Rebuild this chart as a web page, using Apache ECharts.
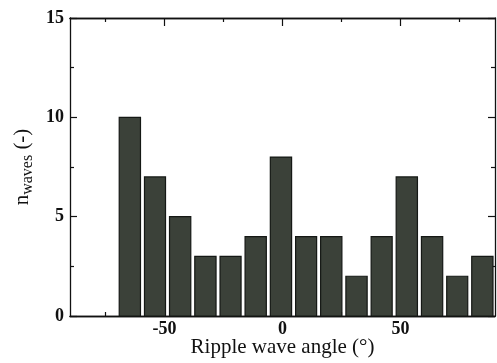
<!DOCTYPE html>
<html>

<head>
	<meta charset="utf-8">
	<title></title>
	<style type="text/css">
	html, body {
		margin: 0;
		padding: 0;
		background: #fff;
	}

	#chart {
		width: 497px;
		height: 363px;
	}
	</style>
</head>

<body>
	<div id="chart"></div>
	<script src="https://cdn.jsdelivr.net/npm/echarts@6/dist/echarts.min.js"></script>
	<script>
	// histogram bins (degrees) and counts
	var binEdges = [-70, -59.3, -48.7, -38, -27.3, -16.7, -6, 4.7, 15.3, 26, 36.7, 47.3, 58, 68.7, 79.3, 90];
	var counts = [10, 7, 5, 3, 3, 4, 8, 4, 4, 2, 4, 7, 4, 2, 3];
	var xMajorTicks = [-50, 0, 50];
	var xMinorTicks = [-75, -25, 25, 75];

	var serif = 'Liberation Serif';

	var bins = [];
	for (var i = 0; i < counts.length; i++) {
		bins.push([binEdges[i], binEdges[i + 1], counts[i]]);
	}

	function renderItem(params, api) {
		var p0 = api.coord([api.value(0), api.value(2)]);
		var p1 = api.coord([api.value(1), 0]);
		return {
			type: 'rect',
			shape: {
				x: p0[0] + 2,
				y: p0[1],
				width: p1[0] - p0[0] - 4,
				height: p1[1] - p0[1]
			},
			style: {
				fill: '#3b4139',
				stroke: '#151815',
				lineWidth: 1.2
			}
		};
	}

	// one x axis per tick set, bottom and top
	function xAxis(pos, ticks, len, labels) {
		return {
			type: 'value',
			position: pos,
			min: -90,
			max: 90,
			axisLine: { show: true, onZero: false, lineStyle: { color: '#111', width: 1.3 } },
			axisTick: { show: true, inside: true, length: len, customValues: ticks, lineStyle: { color: '#111', width: 1.2 } },
			axisLabel: labels ? {
				show: true,
				customValues: ticks,
				margin: 4,
				color: '#111',
				fontFamily: serif,
				fontWeight: 'bold',
				fontSize: 18
			} : { show: false },
			splitLine: { show: false }
		};
	}

	function yAxis(pos, labels) {
		return {
			type: 'value',
			position: pos,
			min: 0,
			max: 15,
			interval: 5,
			axisLine: { show: true, onZero: false, lineStyle: { color: '#111', width: 1.3 } },
			axisTick: { show: true, inside: true, length: 7, lineStyle: { color: '#111', width: 1.2 } },
			minorTick: { show: true, splitNumber: 2, length: 4, lineStyle: { color: '#111', width: 1.2 } },
			axisLabel: labels ? {
				show: true,
				margin: 6,
				color: '#111',
				fontFamily: serif,
				fontWeight: 'bold',
				fontSize: 18
			} : { show: false },
			splitLine: { show: false }
		};
	}

	var bottomMajor = xAxis('bottom', xMajorTicks, 8, true);
	bottomMajor.name = 'Ripple wave angle (°)';
	bottomMajor.nameLocation = 'middle';
	bottomMajor.nameGap = 21;
	bottomMajor.nameMoveOverlap = false;
	bottomMajor.nameTextStyle = { color: '#111', fontFamily: serif, fontSize: 21 };

	var leftAxis = yAxis('left', true);
	leftAxis.name = '{n|n}{s|waves}{n| (-)}';
	leftAxis.nameLocation = 'middle';
	leftAxis.nameGap = 36;
	leftAxis.nameMoveOverlap = false;
	leftAxis.nameTextStyle = {
		color: '#111',
		fontFamily: serif,
		rich: {
			n: { fontSize: 21, fontFamily: serif, color: '#111', verticalAlign: 'bottom', height: 24 },
			s: { fontSize: 16, fontFamily: serif, color: '#111', verticalAlign: 'bottom', height: 24, padding: [0, 0, -6, 0] }
		}
	};

	var option = {
		animation: false,
		grid: {
			left: 70,
			right: 2,
			top: 18,
			bottom: 47,
			containLabel: false,
			outerBoundsMode: 'none'
		},
		xAxis: [
			bottomMajor,
			xAxis('bottom', xMinorTicks, 4, false),
			xAxis('top', xMajorTicks, 8, false),
			xAxis('top', xMinorTicks, 4, false)
		],
		yAxis: [
			leftAxis,
			yAxis('right', false)
		],
		series: [{
			type: 'custom',
			renderItem: renderItem,
			xAxisIndex: 0,
			yAxisIndex: 0,
			encode: { x: [0, 1], y: 2 },
			data: bins
		}]
	};

	var myChart = echarts.init(document.getElementById('chart'));
	myChart.setOption(option, true);
	</script>
</body>

</html>
